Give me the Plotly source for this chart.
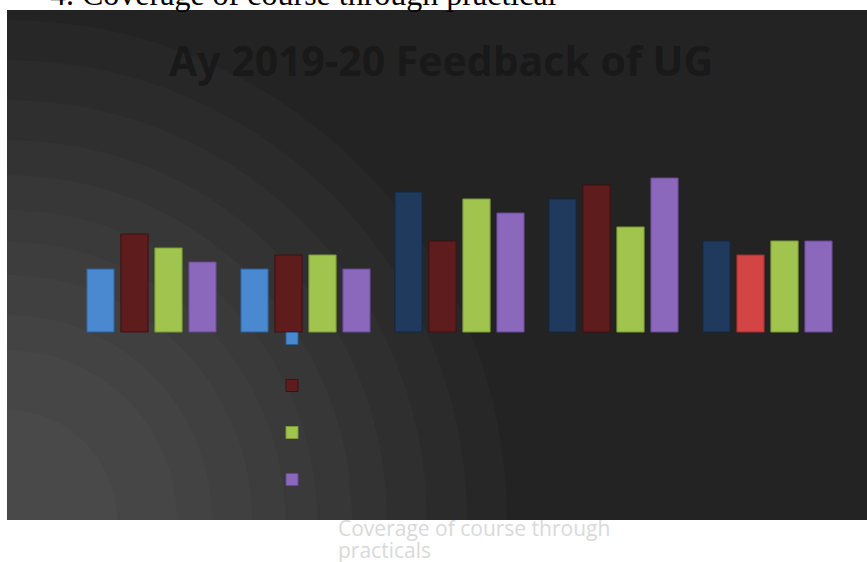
import plotly.graph_objects as go

# ---- data ----
categories = ["1", "2", "3", "4", "5"]
series_names = ["Series 1", "Series 2", "Series 3", "Series 4"]
series1 = [9, 9, 20, 19, 13]
series2 = [14, 11, 13, 21, 11]
series3 = [12, 11, 19, 15, 13]
series4 = [10, 9, 17, 22, 13]

colors1 = ["#4a88cf", "#4a88cf", "#1f3a5c", "#1f3a5c", "#1f3a5c"]
colors2 = ["#5f1c1c", "#5f1c1c", "#5f1c1c", "#5f1c1c", "#d34444"]
colors3 = ["#a0c44e"] * 5
colors4 = ["#8b68bb"] * 5
lines1 = ["#2c5f9a", "#2c5f9a", "#15283f", "#15283f", "#15283f"]
lines2 = ["#3e1111", "#3e1111", "#3e1111", "#3e1111", "#9c2f2f"]
lines3 = ["#7a9a34"] * 5
lines4 = ["#644891"] * 5

W, H = 867, 562

def px_x(p):
    return p / W

def px_y(p):
    return (H - p) / H

fig = go.Figure()
all_series = [series1, series2, series3, series4]
all_colors = [colors1, colors2, colors3, colors4]
all_lines = [lines1, lines2, lines3, lines4]
for i, (vals, cols, lns) in enumerate(zip(all_series, all_colors, all_lines)):
    fig.add_trace(go.Bar(
        x=categories, y=vals, name=" ",
        legendgroup=series_names[i],
        marker=dict(color=cols, line=dict(color=lns, width=1)),
        hoverinfo="y",
    ))

# background shapes
shapes = [dict(type="rect", xref="paper", yref="paper",
               x0=px_x(7), x1=1.0, y0=px_y(520), y1=px_y(10),
               fillcolor="#232323", line=dict(width=0), layer="below")]
for r in [500, 460, 420, 380, 345, 310, 278, 245, 205, 170, 110]:
    shapes.append(dict(type="circle", xref="paper", yref="paper",
                       xsizemode="pixel", ysizemode="pixel",
                       xanchor=px_x(7), yanchor=px_y(520),
                       x0=-r, x1=r, y0=-r, y1=r,
                       fillcolor="rgba(255,255,255,0.021)",
                       line=dict(width=0), layer="below"))

annotations = [
    dict(text="Ay 2019-20 Feedback of UG", xref="paper", yref="paper",
         x=px_x(441), y=px_y(60), xanchor="center", yanchor="middle",
         showarrow=False,
         font=dict(family="Open Sans", size=41, color="#191919", weight="bold")),
    dict(text="4. Coverage of course through practical", xref="paper", yref="paper",
         x=px_x(48), y=px_y(14), xanchor="left", yanchor="bottom",
         showarrow=False,
         font=dict(family="Liberation Serif", size=32, color="#000000")),
    dict(text="Coverage of course through", xref="paper", yref="paper",
         x=px_x(336), y=px_y(512), xanchor="left", yanchor="top", align="left",
         showarrow=False,
         font=dict(family="Open Sans", size=21, color="#d9d9d9")),
    dict(text="practicals", xref="paper", yref="paper",
         x=px_x(336), y=px_y(534), xanchor="left", yanchor="top", align="left",
         showarrow=False,
         font=dict(family="Open Sans", size=21, color="#d9d9d9")),
]

base_px = 332
unit_px = 7
fig.update_layout(
    width=W, height=H,
    margin=dict(l=0, r=0, t=0, b=0),
    paper_bgcolor="#ffffff",
    plot_bgcolor="rgba(0,0,0,0)",
    barmode="group", bargap=0.117, bargroupgap=0.2,
    xaxis=dict(domain=[px_x(74.5), px_x(844.5)], range=[-0.5, 4.5],
               visible=False, fixedrange=True),
    yaxis=dict(domain=[0, 1], range=[-(H - base_px) / unit_px, base_px / unit_px],
               visible=False, fixedrange=True),
    showlegend=True,
    legend=dict(x=px_x(272), y=px_y(324), xanchor="left", yanchor="top",
                bgcolor="rgba(0,0,0,0)", tracegroupgap=28,
                font=dict(size=12, color="#d9d9d9")),
    shapes=shapes,
    annotations=annotations,
)

fig.write_html("out.html",
               config={"displayModeBar": False},
               post_script="document.body.style.margin='0';document.body.style.overflow='hidden';")
